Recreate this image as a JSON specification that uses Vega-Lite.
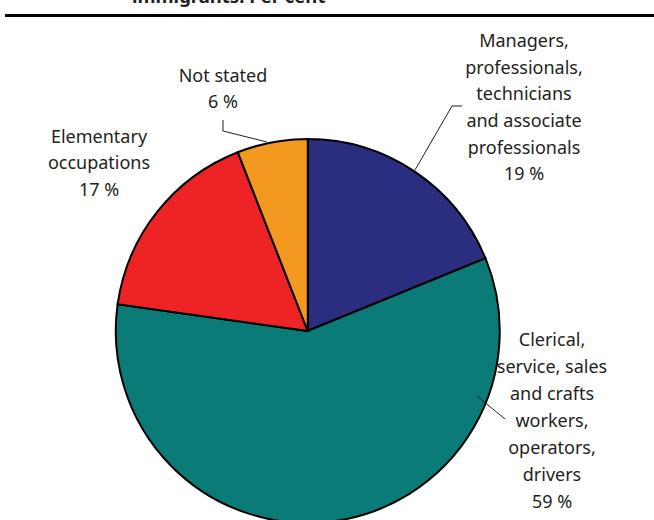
{
  "$schema": "https://vega.github.io/schema/vega-lite/v6.json",
  "width": 654,
  "height": 520,
  "autosize": {"type": "none"},
  "padding": 0,
  "background": "white",
  "config": {"view": {"stroke": null}, "text": {"font": "Noto Sans", "color": "#231f20"}},
  "data": {
    "values": [
      {"idx": 1, "category": "Managers,\nprofessionals,\ntechnicians\nand associate\nprofessionals", "pct": 19},
      {"idx": 2, "category": "Clerical,\nservice, sales\nand crafts\nworkers,\noperators,\ndrivers", "pct": 59},
      {"idx": 3, "category": "Elementary\noccupations", "pct": 17},
      {"idx": 4, "category": "Not stated", "pct": 6}
    ]
  },
  "transform": [{"calculate": "datum.category + '\\n' + datum.pct + ' %'", "as": "txt"}],
  "layer": [
    {
      "mark": {"type": "arc", "radius": 192, "stroke": "#000000", "strokeWidth": 2},
      "encoding": {
        "theta": {"field": "pct", "type": "quantitative", "stack": true},
        "order": {"field": "idx", "type": "quantitative"},
        "color": {"field": "category", "type": "nominal", "legend": null,
          "scale": {"domain": ["Managers,\nprofessionals,\ntechnicians\nand associate\nprofessionals", "Clerical,\nservice, sales\nand crafts\nworkers,\noperators,\ndrivers", "Elementary\noccupations", "Not stated"],
                    "range": ["#2b2e7e", "#0b7b78", "#ee2325", "#f4991f"]}},
        "x": {"datum": 0, "type": "quantitative", "axis": null, "scale": {"domain": [-1.6, 1.8], "nice": false, "zero": false}},
        "y": {"datum": 0, "type": "quantitative", "axis": null, "scale": {"domain": [-0.985, 1.725], "nice": false, "zero": false}}
      }
    },
    {
      "transform": [{"filter": "datum.idx == 1"}],
      "mark": {"type": "text", "fontSize": 18, "lineBreak": "\n", "lineHeight": 26.7, "align": "center", "baseline": "alphabetic"},
      "encoding": {
        "text": {"field": "txt"},
        "x": {"datum": 1.1242, "type": "quantitative", "axis": null, "scale": {"domain": [-1.6, 1.8], "nice": false, "zero": false}},
        "y": {"datum": 1.4801, "type": "quantitative", "axis": null, "scale": {"domain": [-0.985, 1.725], "nice": false, "zero": false}}
      }
    },
    {
      "transform": [{"filter": "datum.idx == 2"}],
      "mark": {"type": "text", "fontSize": 18, "lineBreak": "\n", "lineHeight": 27, "align": "center", "baseline": "alphabetic"},
      "encoding": {
        "text": {"field": "txt"},
        "x": {"datum": 1.2697, "type": "quantitative", "axis": null, "scale": {"domain": [-1.6, 1.8], "nice": false, "zero": false}},
        "y": {"datum": -0.0782, "type": "quantitative", "axis": null, "scale": {"domain": [-0.985, 1.725], "nice": false, "zero": false}}
      }
    },
    {
      "transform": [{"filter": "datum.idx == 3"}],
      "mark": {"type": "text", "fontSize": 18, "lineBreak": "\n", "lineHeight": 26.5, "align": "center", "baseline": "alphabetic"},
      "encoding": {
        "text": {"field": "txt"},
        "x": {"datum": -1.0853, "type": "quantitative", "axis": null, "scale": {"domain": [-1.6, 1.8], "nice": false, "zero": false}},
        "y": {"datum": 0.9798, "type": "quantitative", "axis": null, "scale": {"domain": [-0.985, 1.725], "nice": false, "zero": false}}
      }
    },
    {
      "transform": [{"filter": "datum.idx == 4"}],
      "mark": {"type": "text", "fontSize": 18, "lineBreak": "\n", "lineHeight": 26.5, "align": "center", "baseline": "alphabetic"},
      "encoding": {
        "text": {"field": "txt"},
        "x": {"datum": -0.4407, "type": "quantitative", "axis": null, "scale": {"domain": [-1.6, 1.8], "nice": false, "zero": false}},
        "y": {"datum": 1.2977, "type": "quantitative", "axis": null, "scale": {"domain": [-0.985, 1.725], "nice": false, "zero": false}}
      }
    },
    {
      "data": {"values": [{}]},
      "mark": {"type": "text", "text": "immigrants. Per cent", "fontSize": 18.5, "fontWeight": "bold", "align": "left", "baseline": "alphabetic"},
      "encoding": {
        "x": {"datum": -0.9138, "type": "quantitative", "axis": null, "scale": {"domain": [-1.6, 1.8], "nice": false, "zero": false}},
        "y": {"datum": 1.7094, "type": "quantitative", "axis": null, "scale": {"domain": [-0.985, 1.725], "nice": false, "zero": false}}
      }
    },
    {
      "data": {"values": [{}]},
      "mark": {"type": "rule", "color": "#000000", "strokeWidth": 3},
      "encoding": {
        "x": {"datum": -1.574, "type": "quantitative", "axis": null, "scale": {"domain": [-1.6, 1.8], "nice": false, "zero": false}},
        "x2": {"datum": 1.8},
        "y": {"datum": 1.6443, "type": "quantitative", "axis": null, "scale": {"domain": [-0.985, 1.725], "nice": false, "zero": false}},
        "y2": {"datum": 1.6443}
      }
    },
    {
      "data": {"values": [{}]},
      "mark": {"type": "rule", "color": "#231f20", "strokeWidth": 1},
      "encoding": {
        "x": {"datum": 0.5575, "type": "quantitative", "axis": null, "scale": {"domain": [-1.6, 1.8], "nice": false, "zero": false}},
        "x2": {"datum": 0.7499},
        "y": {"datum": 0.8391, "type": "quantitative", "axis": null, "scale": {"domain": [-0.985, 1.725], "nice": false, "zero": false}},
        "y2": {"datum": 1.1726}
      }
    },
    {
      "data": {"values": [{}]},
      "mark": {"type": "rule", "color": "#231f20", "strokeWidth": 1},
      "encoding": {
        "x": {"datum": 0.7499, "type": "quantitative", "axis": null, "scale": {"domain": [-1.6, 1.8], "nice": false, "zero": false}},
        "x2": {"datum": 0.8019},
        "y": {"datum": 1.1726, "type": "quantitative", "axis": null, "scale": {"domain": [-0.985, 1.725], "nice": false, "zero": false}},
        "y2": {"datum": 1.1726}
      }
    },
    {
      "data": {"values": [{}]},
      "mark": {"type": "rule", "color": "#231f20", "strokeWidth": 1},
      "encoding": {
        "x": {"datum": 0.8798, "type": "quantitative", "axis": null, "scale": {"domain": [-1.6, 1.8], "nice": false, "zero": false}},
        "x2": {"datum": 1.0254},
        "y": {"datum": -0.3388, "type": "quantitative", "axis": null, "scale": {"domain": [-0.985, 1.725], "nice": false, "zero": false}},
        "y2": {"datum": -0.4586}
      }
    },
    {
      "data": {"values": [{}]},
      "mark": {"type": "rule", "color": "#231f20", "strokeWidth": 1},
      "encoding": {
        "x": {"datum": -0.4407, "type": "quantitative", "axis": null, "scale": {"domain": [-1.6, 1.8], "nice": false, "zero": false}},
        "x2": {"datum": -0.4407},
        "y": {"datum": 1.0996, "type": "quantitative", "axis": null, "scale": {"domain": [-0.985, 1.725], "nice": false, "zero": false}},
        "y2": {"datum": 1.0423}
      }
    },
    {
      "data": {"values": [{}]},
      "mark": {"type": "rule", "color": "#231f20", "strokeWidth": 1},
      "encoding": {
        "x": {"datum": -0.4407, "type": "quantitative", "axis": null, "scale": {"domain": [-1.6, 1.8], "nice": false, "zero": false}},
        "x2": {"datum": -0.2119},
        "y": {"datum": 1.0423, "type": "quantitative", "axis": null, "scale": {"domain": [-0.985, 1.725], "nice": false, "zero": false}},
        "y2": {"datum": 0.9850}
      }
    }
  ]
}
